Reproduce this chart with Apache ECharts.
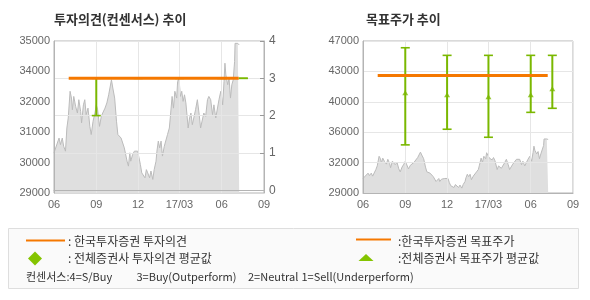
<!DOCTYPE html>
<html><head><meta charset="utf-8">
<script src="https://cdn.jsdelivr.net/npm/echarts@6/dist/echarts.min.js"></script>
<style>html,body{margin:0;padding:0;background:#fff;}#c{width:590px;height:300px;}</style>
</head><body><div id="c"></div>
<script>
// ---- data ----
const xTickDates = ['2016-06-01','2016-09-01','2016-12-01','2017-03-01','2017-06-01','2017-09-01'];
const xTickLabels = ['06','09','12','17/03','06','09'];
const priceDates = ['2016-06-01','2016-06-12','2016-06-15','2016-06-19','2016-06-22','2016-06-26','2016-06-29','2016-07-02','2016-07-06','2016-07-09',
'2016-07-11','2016-07-14','2016-07-18','2016-07-22','2016-07-25','2016-07-29','2016-07-31','2016-08-04','2016-08-07','2016-08-10',
'2016-08-14','2016-08-18','2016-08-21','2016-08-25','2016-08-29','2016-09-01','2016-09-04','2016-09-08','2016-09-12','2016-09-15',
'2016-09-20','2016-09-24','2016-09-28','2016-10-04','2016-10-07','2016-10-11','2016-10-15','2016-10-18','2016-10-25','2016-10-29',
'2016-11-01','2016-11-05','2016-11-07','2016-11-10','2016-11-13','2016-11-15','2016-11-19','2016-11-23','2016-11-26','2016-11-30',
'2016-12-03','2016-12-06','2016-12-09','2016-12-13','2016-12-16','2016-12-19','2016-12-22','2016-12-26','2016-12-29','2017-01-02',
'2017-01-05','2017-01-09','2017-01-11','2017-01-14','2017-01-17','2017-01-20','2017-01-23','2017-01-27','2017-01-31','2017-02-03',
'2017-02-07','2017-02-09','2017-02-13','2017-02-16','2017-02-19','2017-02-23','2017-02-25','2017-02-28','2017-03-03','2017-03-06',
'2017-03-09','2017-03-12','2017-03-15','2017-03-18','2017-03-20','2017-03-23','2017-03-26','2017-03-29','2017-04-02','2017-04-05',
'2017-04-09','2017-04-13','2017-04-16','2017-04-20','2017-04-23','2017-04-27','2017-05-01','2017-05-04','2017-05-08','2017-05-12',
'2017-05-15','2017-05-19','2017-05-23','2017-05-26','2017-05-30','2017-06-03','2017-06-06','2017-06-08','2017-06-10','2017-06-14',
'2017-06-17','2017-06-20','2017-06-23','2017-06-26','2017-06-29','2017-06-30','2017-07-03','2017-07-06','2017-07-09'];
const priceValues = [30720,31350,31070,31350,31000,30790,31780,32210,33350,33060,
32560,33130,32710,32420,32990,32490,32000,32770,32990,32350,
32630,31850,31500,32070,32420,32770,32560,31850,32280,32420,
32630,32850,33200,33840,33490,33060,32070,31500,31350,31430,
30930,30860,30360,30150,30720,30360,30640,30790,30720,30790,
30720,30220,29860,29790,29650,30000,29860,29650,29940,29580,
30000,30360,30790,31220,30930,31220,30580,31000,31070,31500,
31780,32210,33130,32630,33350,33060,33770,33910,33130,33350,
32920,33200,32850,32770,31780,32210,32420,31920,31850,32560,
32990,32350,31780,31710,32420,32280,32990,33130,32990,32350,
32770,32210,32280,32990,33350,32770,33770,34550,34050,33630,
33910,33060,33630,33840,34620,35400,35330,35400,35330];
const kisDates = ['2016-07-03','2017-07-08'];
const kisOpinion = [3,3];
const kisTarget = [42900,42900];
const consDates = ['2016-09-01','2016-12-01','2017-03-01','2017-06-01','2017-07-18'];
const opinionHigh = [3,3,3,3,3];
const opinionLow = [2,3,3,3,3];
const targetHigh = [46200,45300,45300,45300,45300];
const targetLow = [34700,36550,35600,38550,39030];
const targetAvg = [40870,40630,40400,40630,41340];
const leftPriceTicks = [29000,30300,31600,32900,34200,35500];
const leftPriceLabels = ['29000','30000','31000','32000','34000','35000'];
const opinionTicks = [0,1,2,3,4];
const rightPriceTicks = [29000,32600,36200,39800,43400,47000];
const rightPriceLabels = ['29000','32000','36000','40000','43000','47000'];
const titles = ['투자의견(컨센서스) 추이','목표주가 추이'];
const legendTexts = [': 한국투자증권 투자의견',': 전체증권사 투자의견 평균값',':한국투자증권 목표주가',':전체증권사 목표주가 평균값'];
const noteTexts = ['컨센서스:4=S/Buy','3=Buy(Outperform)','2=Neutral','1=Sell(Underperform)'];

// ---- helpers ----
const DAY = 86400000;
const T = s => { const p = s.split('-').map(Number); return Date.UTC(p[0], p[1]-1, p[2]) / DAY; };
const ORANGE = '#f57800', GREEN = '#7ab800', LGREEN = '#84c400';
const AXIS = '#b4b4b4', SPLIT = '#e6e6e6', LABEL = '#666';
const NUMFONT = 'Liberation Sans, Arial, sans-serif';
const KFONT = '"Noto Sans CJK KR", sans-serif';
const xTicks = xTickDates.map(T);
const priceData = priceDates.map((d,i)=>[T(d), priceValues[i]]);

function xAxisDef(gi){
  return {type:'value', gridIndex:gi, min:xTicks[0], max:xTicks[xTicks.length-1], z:3,
    axisLine:{show:true, lineStyle:{color:AXIS}},
    axisTick:{show:false, customValues:xTicks},
    axisLabel:{customValues:xTicks, color:LABEL, fontSize:11, fontFamily:NUMFONT, margin:6,
      formatter:v=>{const i = xTicks.indexOf(v); return i>=0 ? xTickLabels[i] : '';}},
    splitLine:{show:true, lineStyle:{color:SPLIT}}};
}
function errRender(capHalf){
  return function(params, api){
    const x = api.value(0);
    const a = api.coord([x, api.value(1)]);
    const b = api.coord([x, api.value(2)]);
    const st = {stroke:GREEN, lineWidth:1.6};
    return {type:'group', children:[
      {type:'line', shape:{x1:a[0],y1:a[1],x2:b[0],y2:b[1]}, style:{stroke:GREEN,lineWidth:2}},
      {type:'line', shape:{x1:a[0]-capHalf,y1:a[1],x2:a[0]+capHalf,y2:a[1]}, style:st},
      {type:'line', shape:{x1:b[0]-capHalf,y1:b[1],x2:b[0]+capHalf,y2:b[1]}, style:st}
    ]};
  };
}

const chart = echarts.init(document.getElementById('c'), null, {renderer:'canvas'});
const option = {
  animation:false,
  title: titles.map((t,i)=>({text:t, left: i===0?54:366, top:13, padding:0,
    textStyle:{fontSize:13, fontWeight:'bold', color:'#333', fontFamily:KFONT}})),
  grid:[
    {left:54, top:41, width:210, height:152, show:true, borderColor:AXIS, borderWidth:1, backgroundColor:'transparent'},
    {left:363, top:41, width:210, height:152, show:true, borderColor:AXIS, borderWidth:1, backgroundColor:'transparent'}
  ],
  xAxis:[xAxisDef(0), xAxisDef(1)],
  yAxis:[
    {type:'value', gridIndex:0, position:'left', min:29000, max:35500, z:3,
      axisLine:{show:true, lineStyle:{color:AXIS}}, axisTick:{show:false, customValues:leftPriceTicks},
      splitLine:{show:false},
      axisLabel:{customValues:leftPriceTicks, color:LABEL, fontSize:11, fontFamily:NUMFONT, margin:4,
        formatter:v=>{const i=leftPriceTicks.indexOf(v); return i>=0?leftPriceLabels[i]:'';}}},
    {type:'value', gridIndex:0, position:'right', min:-0.075, max:4, z:3,
      axisLine:{show:true, lineStyle:{color:AXIS}},
      axisTick:{show:true, inside:true, length:4, customValues:[1,2,3,4], lineStyle:{color:'#999'}},
      splitLine:{show:true, lineStyle:{color:SPLIT}},
      axisLabel:{customValues:opinionTicks, color:LABEL, fontSize:12, fontFamily:NUMFONT, margin:5,
        formatter:v=>String(v)}},
    {type:'value', gridIndex:1, position:'left', min:29000, max:47000, z:3,
      axisLine:{show:true, lineStyle:{color:AXIS}}, axisTick:{show:false, customValues:rightPriceTicks},
      splitLine:{show:true, lineStyle:{color:SPLIT}},
      axisLabel:{customValues:rightPriceTicks, color:LABEL, fontSize:11, fontFamily:NUMFONT, margin:4,
        formatter:v=>{const i=rightPriceTicks.indexOf(v); return i>=0?rightPriceLabels[i]:'';}}}
  ],
  series:[
    {type:'line', xAxisIndex:0, yAxisIndex:0, z:2, data:priceData, showSymbol:false, symbol:'none',
      lineStyle:{color:'#bbbbbb', width:1}, areaStyle:{color:'#dfdfdf', opacity:1}},
    {type:'custom', xAxisIndex:0, yAxisIndex:1, z:4, renderItem:errRender(4.5),
      encode:{x:0, y:[1,2]}, data:consDates.map((d,i)=>[T(d), opinionHigh[i], opinionLow[i]])},
    {type:'line', xAxisIndex:0, yAxisIndex:1, z:5, symbol:'none', lineStyle:{color:ORANGE, width:3},
      data:kisDates.map((d,i)=>[T(d), kisOpinion[i]])},
    {type:'line', xAxisIndex:1, yAxisIndex:2, z:2, data:priceData, showSymbol:false, symbol:'none',
      lineStyle:{color:'#bbbbbb', width:1}, areaStyle:{color:'#dfdfdf', opacity:1}},
    {type:'custom', xAxisIndex:1, yAxisIndex:2, z:4, renderItem:errRender(4.5),
      encode:{x:0, y:[1,2]}, data:consDates.map((d,i)=>[T(d), targetHigh[i], targetLow[i]])},
    {type:'scatter', xAxisIndex:1, yAxisIndex:2, z:6, symbol:'triangle', symbolSize:[6,5],
      itemStyle:{color:GREEN}, data:consDates.map((d,i)=>[T(d), targetAvg[i]])},
    {type:'line', xAxisIndex:1, yAxisIndex:2, z:5, symbol:'none', lineStyle:{color:ORANGE, width:3},
      data:kisDates.map((d,i)=>[T(d), kisTarget[i]])}
  ],
  graphic:[
    {type:'rect', shape:{x:8.5, y:228.5, width:570, height:60}, style:{fill:'#fafafa', stroke:'#dedede', lineWidth:1}, z:0},
    {type:'line', shape:{x1:26, y1:240.5, x2:65, y2:240.5}, style:{stroke:ORANGE, lineWidth:2}},
    {type:'polygon', shape:{points:[[35,251.5],[42,258.5],[35,265.5],[28,258.5]]}, style:{fill:LGREEN}},
    {type:'text', x:68, y:241.5, style:{text:legendTexts[0], font:'12px '+KFONT, fill:'#333', verticalAlign:'middle'}},
    {type:'text', x:68, y:258.5, style:{text:legendTexts[1], font:'12px '+KFONT, fill:'#333', verticalAlign:'middle'}},
    {type:'line', shape:{x1:356, y1:239.5, x2:391, y2:239.5}, style:{stroke:ORANGE, lineWidth:2}},
    {type:'polygon', shape:{points:[[366,254],[373.5,261],[358.5,261]]}, style:{fill:LGREEN}},
    {type:'text', x:398, y:241, style:{text:legendTexts[2], font:'12px '+KFONT, fill:'#333', verticalAlign:'middle'}},
    {type:'text', x:398, y:258.5, style:{text:legendTexts[3], font:'12px '+KFONT, fill:'#333', verticalAlign:'middle'}},
    {type:'text', x:26, y:276.5, style:{text:noteTexts[0], font:'11px '+KFONT, fill:'#333', verticalAlign:'middle'}},
    {type:'text', x:136.5, y:276.5, style:{text:noteTexts[1], font:'11px '+KFONT, fill:'#333', verticalAlign:'middle'}},
    {type:'text', x:248, y:276.5, style:{text:noteTexts[2], font:'11px '+KFONT, fill:'#333', verticalAlign:'middle'}},
    {type:'text', x:301.5, y:276.5, style:{text:noteTexts[3], font:'11px '+KFONT, fill:'#333', verticalAlign:'middle'}}
  ]
};
chart.setOption(option);
</script></body></html>
